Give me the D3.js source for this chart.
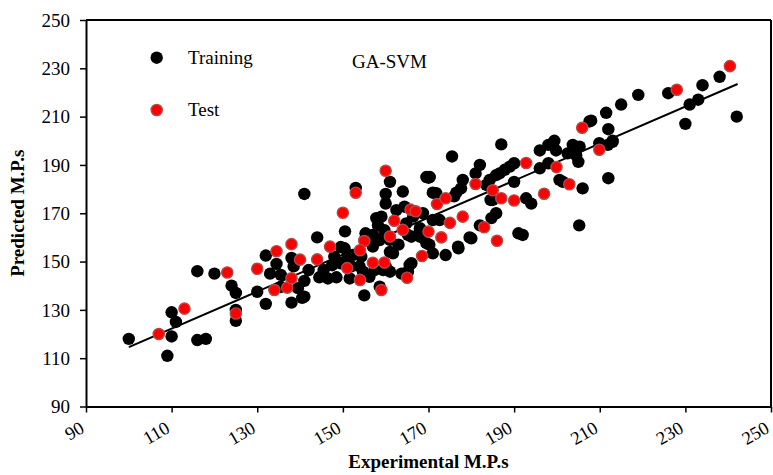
<!DOCTYPE html>
<html>
<head>
<meta charset="utf-8">
<script src="https://cdn.jsdelivr.net/npm/d3@7"></script>
<style>
  body { margin: 0; background: #fff; }
  svg text { font-family: "Liberation Serif", "Times New Roman", serif; }
</style>
</head>
<body>
<svg id="chart"></svg>
<script>
// tick labels
const xTicks = [90, 110, 130, 150, 170, 190, 210, 230, 250]
const yTicks = [90, 110, 130, 150, 170, 190, 210, 230, 250]

// training set [experimental, predicted]
const training = [
  [100,118],[109,111],[110,119],[110,129],[111,125],[116,146],[120,145],[116,117.5],[118,118],
  [124,140],[125,137],[125,125.5],[125,130],[130,137.5],[132,132.5],[132,152.5],[134.5,149],
  [135.5,144.5],[133,145],[138.5,148],[141,142],[142,146.5],[135.5,139.5],[139.5,139],
  [144.5,143.5],[146.5,143],[145.5,146.5],[148.5,143.5],[147.5,148.5],[148,152],[149.5,156],
  [141,178],[153,180.5],[161,183],[160,178],[160,174],[164,179],[169.5,185],[144,160],
  [150.5,162.5],[138,133],[141,135.5],[155,136],[138,151.5],[140.5,135],
  [149.5,149.3],[152,148],[152.3,152.7],[154.3,152],[154.7,145.8],[157,156.2],[155.1,159],
  [157,161],[158.2,165],[157.8,168],[159,168.6],[159.7,163],[161,159],[163,157],[161.7,153.4],
  [160,148],[161,145.8],[164.8,165.8],[164.4,172.7],[162.5,171.3],[166.4,168.6],[168,163.8],
  [168.7,170],[166,160.3],[163.7,145],[158.6,139.6],[165.6,148.6],
  [171,178.5],[155.3,161.7],[158.6,158.9],[161,154],[150.4,155.5],[150.8,150.6],[153.9,148],
  [157.4,146.5],[159.4,146.5],[166,149.3],[165.2,145.8],[171,153.4],[170.2,157],[151.6,143],
  [156.2,143.7],[165.2,161],[168,160.3],
  [187,198.5],[175.5,193.5],[170,184.7],[182,190],[181,186.5],[196,196],[198,198.3],
  [199.4,200],[199.8,196],[203.7,198.3],[205.3,197.6],[204.5,194],[205,191.3],[202.5,194.8],
  [212,204.8],[213,199.6],[207.6,208],[196,188.6],[198,190.7],[190,190.7],[189,189.3],
  [187.8,188],[186.6,186.5],[185.8,185.8],[190,183],[184.3,183.8],[183.5,181.7],[178,183.8],
  [177.6,180.3],[176.5,178.5],[171.8,178.3],[200.6,183.8],[201.4,183],[206,180.3],[212,184.5],
  [185,175.5],[185.8,170],[184.7,168],[182,165],[180,159.6],[177,155.5],[174,152.7],
  [192.8,176.2],[194,174],[191,161.7],[192,161],[205.2,165],[168,163],[172.6,167.2],
  [169.5,157.6],[170.3,185],[171,167.2],[176,177],[184.5,175.5],[176.9,156.2],[179.6,160],
  [209.9,199],[211.9,198.3],
  [238,226.5],[234,223],[233,217],[231,215],[230,207],[242,210],[226,219.7],[219,219],
  [215,215],[211.5,211.6],[208,208.3],[213,200]
]

// test set [experimental, predicted]
const test = [
  [107,120],[113,130.5],[123,145.5],[125,128.5],[130,147],[134.5,154.3],[134,138.2],[137,139.2],
  [138,157.2],[140,150.8],[138,143.1],[144,150.9],[147,156.2],[150,170.2],[153,178.5],[160,187.6],
  [151,147.3],[154,142.4],[155,158.5],[154,154.7],[157,149.5],[159.7,149.6],[159,138.2],
  [161,160.4],[162,166.9],[164,163.1],[165.8,171.5],[167,170.8],[165,143.3],[168.5,152.3],
  [170,162.4],[172,173.8],[174,176.2],[175,166],[178,168.6],[173,160],[181,182.1],[185,179.5],
  [187,176.2],[190,175.3],[183,164.2],[186,158.6],[192.8,190.8],[199.9,189.1],[202.9,182],
  [197,178.1],[205.9,205.4],[209.9,196.3],[228,221.1],[240.4,230.9]
]

// fitted line end points
const fitLine = [[100, 114.6], [242.2, 223.5]]

const legendItems = ["Training", "Test"]

var margin = {top: 20, right: 2, bottom: 68.5, left: 86},
    width = 773 - margin.left - margin.right,
    height = 475 - margin.top - margin.bottom

const svg = d3.select("#chart")
    .attr("width", 773)
    .attr("height", 475)

const chart = svg.append("g")
    .attr("transform", "translate(" + margin.left + "," + margin.top + ")")

const x = d3.scaleLinear().domain([90, 250]).range([0, width])
const y = d3.scaleLinear().domain([90, 250]).range([height, 0])

/* x axis */
const xAxis = chart.append("g")
    .attr("transform", `translate(0, ${height})`)
    .call(d3.axisBottom(x).tickValues(xTicks).tickSize(6).tickSizeOuter(0))
xAxis.select(".domain").attr("stroke-width", 2)
xAxis.selectAll(".tick line").attr("stroke-width", 1.5)
xAxis.selectAll("text")
    .attr("y", 0).attr("dy", 0)
    .attr("text-anchor", "end")
    .attr("transform", "translate(-1,25) rotate(-30)")
    .attr("font-size", 18.5)
    .attr("fill", "#000")

/* y axis */
const yAxis = chart.append("g")
    .call(d3.axisLeft(y).tickValues(yTicks).tickSize(6).tickSizeOuter(0))
yAxis.select(".domain").attr("stroke-width", 2)
yAxis.selectAll(".tick line").attr("stroke-width", 1.5)
yAxis.selectAll("text")
    .attr("x", -16)
    .attr("dy", "0.33em")
    .attr("font-size", 19)
    .attr("fill", "#000")

// top and right frame
chart.append("line")
    .attr("x1", 0).attr("x2", width).attr("y1", 0).attr("y2", 0)
    .attr("stroke", "#000").attr("stroke-width", 2)
chart.append("line")
    .attr("x1", width).attr("x2", width).attr("y1", 0).attr("y2", height)
    .attr("stroke", "#000").attr("stroke-width", 2)

// titles
svg.append("text")
    .attr("x", margin.left + width / 2)
    .attr("y", 468)
    .attr("text-anchor", "middle")
    .attr("font-weight", "bold")
    .attr("font-size", 19)
    .text("Experimental M.P.s")

svg.append("text")
    .attr("transform", `translate(24, ${margin.top + height / 2}) rotate(-90)`)
    .attr("text-anchor", "middle")
    .attr("font-weight", "bold")
    .attr("font-size", 19)
    .text("Predicted M.P.s")

// fitted line
chart.append("path")
    .datum(fitLine)
    .attr("fill", "none")
    .attr("stroke", "#000")
    .attr("stroke-width", 2)
    .attr("d", d3.line().x(d => x(d[0])).y(d => y(d[1])))

// points
chart.selectAll(".train")
    .data(training)
    .enter()
    .append("circle")
        .attr("class", "train")
        .attr("cx", d => x(d[0]))
        .attr("cy", d => y(d[1]))
        .attr("r", 6.2)
        .attr("fill", "#000")

chart.selectAll(".test")
    .data(test)
    .enter()
    .append("circle")
        .attr("class", "test")
        .attr("cx", d => x(d[0]))
        .attr("cy", d => y(d[1]))
        .attr("r", 5.6)
        .attr("fill", "#ff0000")
        .attr("stroke", "#b24a4a")
        .attr("stroke-width", 1.4)

// legend
const legend = svg.append("g")
legend.selectAll("circle")
    .data(legendItems)
    .enter()
    .append("circle")
        .attr("cx", 156.7)
        .attr("cy", (d, i) => 57.7 + i * 52.3)
        .attr("r", (d, i) => i == 0 ? 6.2 : 5.6)
        .attr("fill", (d, i) => i == 0 ? "#000" : "#ff0000")
        .attr("stroke", (d, i) => i == 0 ? "none" : "#b24a4a")
        .attr("stroke-width", 1.4)
legend.selectAll("text")
    .data(legendItems)
    .enter()
    .append("text")
        .attr("x", 188)
        .attr("y", (d, i) => 64 + i * 52.3)
        .attr("font-size", 19)
        .text(d => d)

svg.append("text")
    .attr("x", 352)
    .attr("y", 68)
    .attr("font-size", 19)
    .text("GA-SVM")
</script>
</body>
</html>
